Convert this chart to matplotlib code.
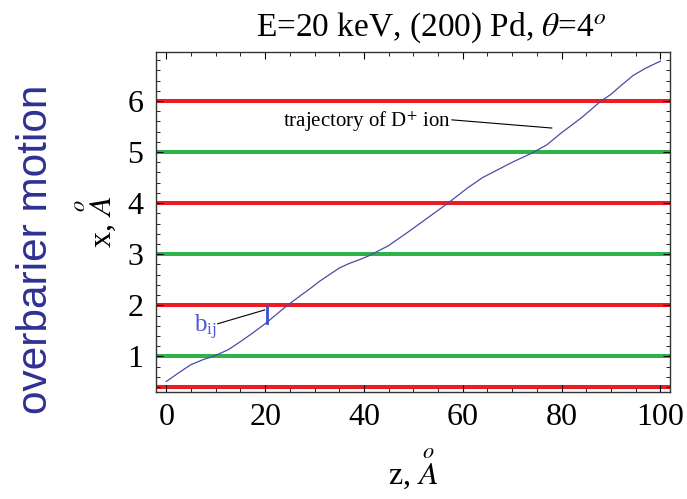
import matplotlib.pyplot as plt
import matplotlib.ticker as ticker
import numpy as np

plt.rcParams['font.family'] = ['Liberation Serif', 'DejaVu Serif']
plt.rcParams['mathtext.fontset'] = 'stix'

# trajectory of D+ ion
z = [0, 2.5, 5, 7.5, 9.5, 12.5, 15, 17.5, 20, 22, 24.5, 27, 29, 31, 33, 35,
     37, 39, 41, 43, 45, 49, 53, 57, 61, 64, 66, 68, 70, 72, 74, 77, 80, 84,
     88, 90, 92, 94.5, 97, 100]
x = [0.51, 0.68, 0.84, 0.94, 1.0, 1.13, 1.29, 1.46, 1.64, 1.8, 2.0, 2.18,
     2.32, 2.47, 2.6, 2.73, 2.82, 2.89, 2.97, 3.07, 3.17, 3.44, 3.72, 4.0,
     4.3, 4.5, 4.6, 4.7, 4.8, 4.89, 4.98, 5.14, 5.38, 5.67, 6.0, 6.13, 6.3,
     6.5, 6.64, 6.78]

red_rows = [0.4, 2, 4, 6]
green_rows = [1, 3, 5]

fig = plt.figure(figsize=(6.87, 4.99), dpi=100)
ax = fig.add_axes([0.227, 0.214, 0.748, 0.682])

for r in red_rows:
    ax.axhline(r, color='#ed1c24', lw=2.9, zorder=1)
for g in green_rows:
    ax.axhline(g, color='#2db34a', lw=2.9, zorder=1)

ax.plot(z, x, color='#4b4ba8', lw=0.9, zorder=3)

# b_ij marker
ax.plot([20.3, 20.3], [1.66, 1.96], color='#3a4fd0', lw=2, zorder=4)
ax.plot([10.4, 19.9], [1.64, 1.91], color='black', lw=0.8, zorder=4)
ax.text(10.2, 1.58, r'b$_{\mathregular{ij}}$', color='#4a5ad0', fontsize=18,
        ha='right', va='center')

# trajectory label
ax.plot([57.8, 78], [5.63, 5.47], color='black', lw=0.8, zorder=4)
ax.text(57.6, 5.6, r'trajectory of D$^{+}$ ion', fontsize=15,
        ha='right', va='center')

ax.set_xlim(-2.1, 101.9)
ax.set_ylim(0.3, 6.96)
ax.xaxis.set_major_locator(ticker.MultipleLocator(20))
ax.xaxis.set_minor_locator(ticker.MultipleLocator(5))
ax.yaxis.set_major_locator(ticker.FixedLocator([1, 2, 3, 4, 5, 6]))
ax.yaxis.set_minor_locator(ticker.MultipleLocator(0.2))
ax.tick_params(which='both', direction='in', top=True, right=True,
               labelsize=23)
ax.tick_params(which='major', length=5, width=0.8)
ax.tick_params(which='minor', length=3, width=0.6)
ax.tick_params(axis='x', pad=8)
ax.tick_params(axis='y', pad=9)
for s in ax.spines.values():
    s.set_linewidth(1.0)
    s.set_color('#333333')

fig.text(0.628, 0.944, r'E=20 keV, (200) Pd, $\theta$=4$^{o}$', fontsize=24,
         ha='center', va='center')
ax.set_xlabel(r'z, $\overset{o}{A}$', fontsize=23, labelpad=10)
ax.set_ylabel(r'x, $\overset{o}{A}$', fontsize=23, labelpad=6)

fig.text(0.052, 0.5, 'overbarier motion', family='Liberation Sans',
         fontsize=30.5, color='#2e3192', rotation=90, ha='center', va='center')

fig.savefig('out.png', dpi=100)
